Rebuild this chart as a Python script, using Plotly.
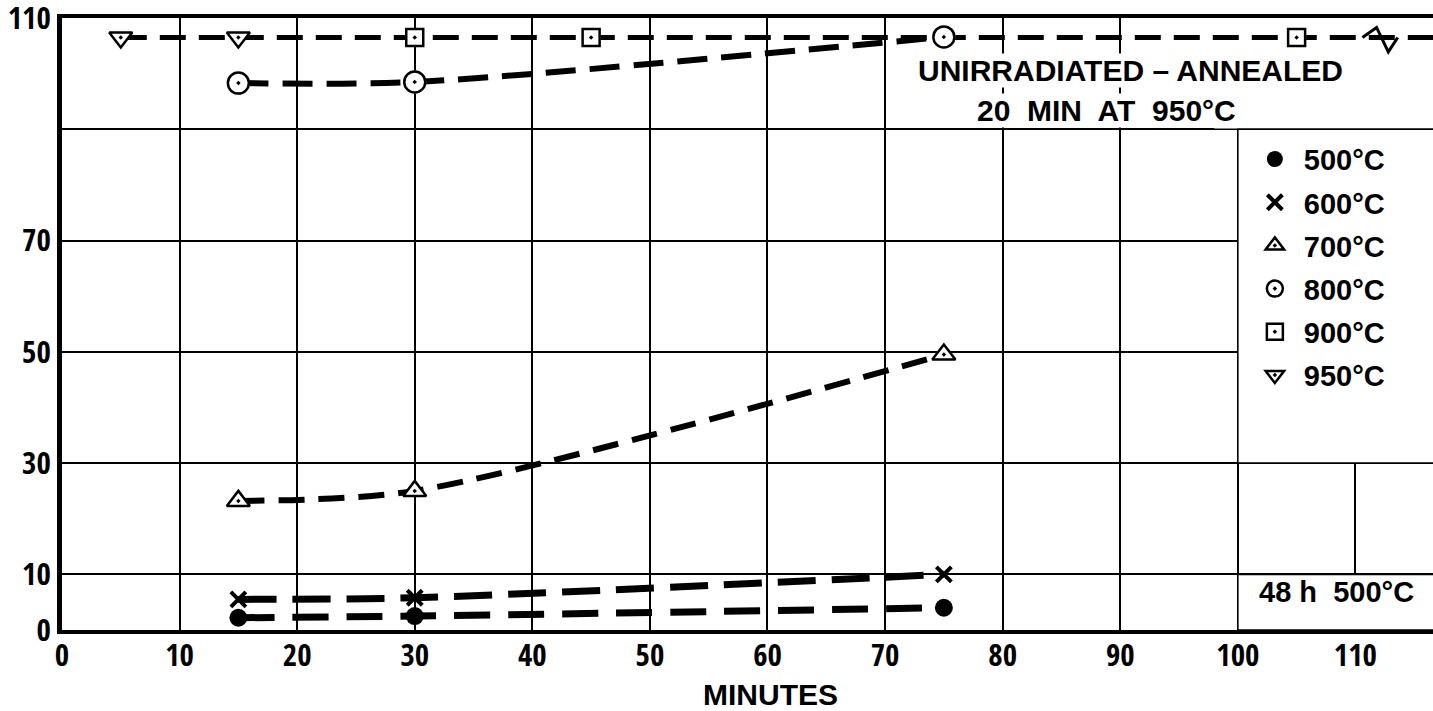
import plotly.graph_objects as go

# Data (minutes vs. value)
MINUTES = [15, 30, 75]
TEMP_500 = [2.2, 2.5, 4.0]
TEMP_600 = [5.5, 5.8, 10.0]
TEMP_700 = [23.2, 25.0, 49.5]
TEMP_800 = [98.3, 98.5, 106.6]
MINUTES_900 = [30, 45, 105]
TEMP_900 = [106.5, 106.5, 106.5]
MINUTES_950 = [5, 15]
TEMP_950 = [106.5, 106.5]

X_TICKS = [0, 10, 20, 30, 40, 50, 60, 70, 80, 90, 100, 110]
X_LABELS = [str(v) for v in X_TICKS]
Y_TICKS = [0, 10, 30, 50, 70, 90, 110]
Y_LABELS = ["0", "10", "30", "50", "70", "", "110"]
X_MAX = 116.6

SANS = "Liberation Sans, Arial, sans-serif"
COND = "Open Sans Condensed, Liberation Sans Narrow, sans-serif"

fig = go.Figure()

# dashed curves
curves = [
    (MINUTES_950 + MINUTES_900 + [X_MAX], TEMP_950 + TEMP_900 + [TEMP_900[-1]], 5, "26px,13px", "linear"),
    (MINUTES, TEMP_800, 6, "30px,14px", "spline"),
    (MINUTES, TEMP_700, 6, "26px,14px", "spline"),
    (MINUTES, TEMP_600, 7, "38px,16px", "spline"),
    (MINUTES, TEMP_500, 7, "36px,18px", "spline"),
]
for xs, ys, w, dash, shape in curves:
    fig.add_trace(go.Scatter(x=xs, y=ys, mode="lines", showlegend=False, hoverinfo="skip",
                             line=dict(color="black", width=w, dash=dash, shape=shape,
                                       smoothing=0.8)))

# markers (white base under open symbols)
series = [
    ("500°C", MINUTES, TEMP_500, "circle", 18, False),
    ("600°C", MINUTES, TEMP_600, "x-thin-open", 15, False),
    ("700°C", MINUTES, TEMP_700, "triangle-up", 20, True),
    ("800°C", MINUTES, TEMP_800, "circle", 21, True),
    ("900°C", MINUTES_900, TEMP_900, "square", 17, True),
    ("950°C", MINUTES_950, TEMP_950, "triangle-down", 20, True),
]
for name, xs, ys, sym, size, hollow in series:
    if hollow:
        fig.add_trace(go.Scatter(x=xs, y=ys, mode="markers", showlegend=False, hoverinfo="skip",
                                 marker=dict(symbol=sym, size=size + 2, color="white")))
        fig.add_trace(go.Scatter(x=xs, y=ys, mode="markers", name=name, legendgroup=name,
                                 marker=dict(symbol=sym + "-open-dot", size=size, color="black",
                                             line=dict(color="black", width=2.5))))
    elif sym.startswith("x"):
        fig.add_trace(go.Scatter(x=xs, y=ys, mode="markers", name=name, legendgroup=name,
                                 marker=dict(symbol=sym, size=size, color="black",
                                             line=dict(color="black", width=4))))
    else:
        fig.add_trace(go.Scatter(x=xs, y=ys, mode="markers", name=name, legendgroup=name,
                                 marker=dict(symbol=sym, size=size, color="black")))

# white panels that hide the grid behind the legend and notes
fig.add_shape(type="rect", xref="x", yref="y", x0=98, x1=X_MAX + 2, y0=90.15, y1=110,
              fillcolor="white", line=dict(width=0), layer="between")
fig.add_shape(type="rect", xref="x", yref="y", x0=100, x1=X_MAX + 2, y0=30, y1=90,
              fillcolor="white", line=dict(color="black", width=1.6), layer="between")
fig.add_shape(type="rect", xref="x", yref="y", x0=100, x1=X_MAX + 2, y0=0, y1=10,
              fillcolor="white", line=dict(color="black", width=1.6), layer="between")
# axis-break zigzag on the top line
fig.add_shape(type="path", xref="x", yref="y",
              path="M 110.6,106.5 L 111.8,108.3 L 112.8,103.9 L 113.6,106.5",
              line=dict(color="black", width=3), layer="above")

fig.add_annotation(x=90.9, y=100.6, xref="x", yref="y", text="UNIRRADIATED – ANNEALED",
                   showarrow=False, bgcolor="white", borderpad=0,
                   font=dict(family=SANS, size=30, color="black", weight="bold"))
fig.add_annotation(x=88.8, y=93.4, xref="x", yref="y", text="20  MIN  AT  950°C",
                   showarrow=False, bgcolor="white", borderpad=0,
                   font=dict(family=SANS, size=30, color="black", weight="bold"))
fig.add_annotation(x=108.4, y=6.9, xref="x", yref="y", text="48 h  500°C",
                   showarrow=False,
                   font=dict(family=SANS, size=29, color="black", weight="bold"))
fig.add_annotation(x=0.517, y=-0.106, xref="paper", yref="paper", text="MINUTES",
                   showarrow=False, yanchor="middle",
                   font=dict(family=SANS, size=30, color="black", weight="bold"))

fig.update_layout(
    width=1433, height=711,
    margin=dict(l=62, r=0, t=18, b=81),
    plot_bgcolor="white", paper_bgcolor="white",
    showlegend=True,
    legend=dict(x=0.8635, y=0.811, xanchor="left", yanchor="top", bgcolor="rgba(0,0,0,0)",
                font=dict(family=SANS, size=29, color="black", weight="bold"),
                itemwidth=48, tracegroupgap=2.5),
    xaxis=dict(range=[0, X_MAX], tickvals=X_TICKS, ticktext=X_LABELS, automargin=False,
               showgrid=True, gridcolor="black", gridwidth=1.6, zeroline=False,
               showline=True, linecolor="black", linewidth=4, mirror=True, ticks="",
               ticklabeloverflow="allow", ticklabelstandoff=-5,
               tickfont=dict(family=COND, size=31, color="black", weight="bold")),
    yaxis=dict(range=[0, 110], tickvals=Y_TICKS, ticktext=Y_LABELS, automargin=False,
               showgrid=True, gridcolor="black", gridwidth=1.6, zeroline=False,
               showline=True, linecolor="black", linewidth=5, ticks="",
               ticklabeloverflow="allow",
               tickfont=dict(family=COND, size=31, color="black", weight="bold")),
)

# drop the page's default body margin so the figure fills the window exactly
fig.write_html("out.html", config={"displayModeBar": False},
               post_script="document.body.style.margin='0';document.body.style.overflow='hidden';")
